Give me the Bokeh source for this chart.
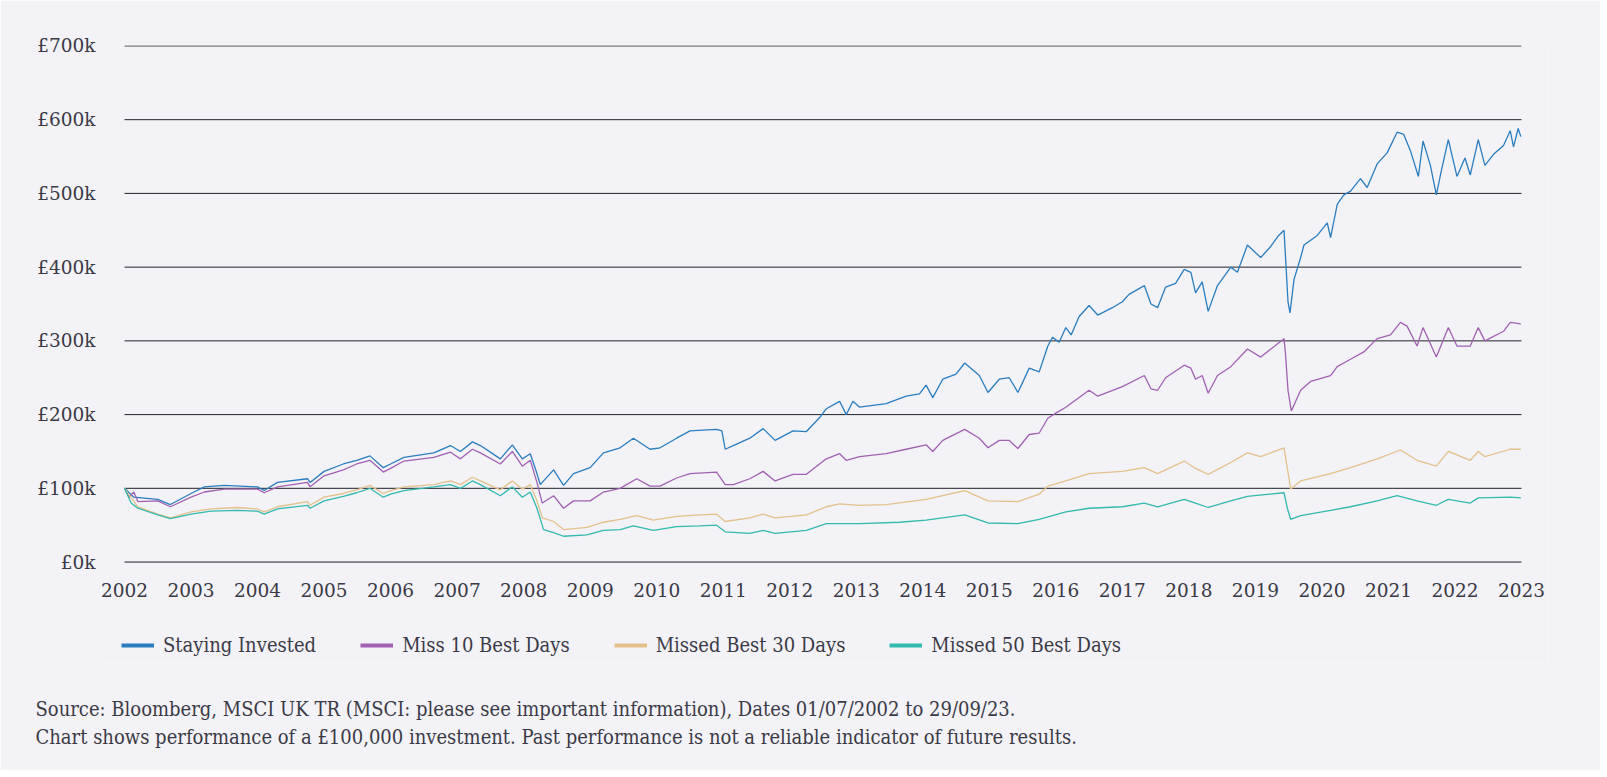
from bokeh.plotting import figure
from bokeh.models import Range1d, FixedTicker, Legend, LegendItem, Title
from bokeh.embed import file_html
from bokeh.resources import INLINE

# ---------------- data (values in £k) ----------------
si_year = [2002.0, 2002.14, 2002.5, 2002.69, 2003.0, 2003.2, 2003.5, 2004.0, 2004.1, 2004.3,
           2004.75, 2004.79, 2005.0, 2005.29, 2005.49, 2005.69, 2005.89, 2006.0, 2006.2, 2006.65,
           2006.9, 2007.05, 2007.23, 2007.35, 2007.65, 2007.83, 2007.98, 2008.1, 2008.2, 2008.25,
           2008.45, 2008.6, 2008.75, 2009.0, 2009.2, 2009.45, 2009.65, 2009.9, 2010.05, 2010.3,
           2010.5, 2010.9, 2010.98, 2011.03, 2011.15, 2011.4, 2011.6, 2011.78, 2012.05, 2012.25,
           2012.45, 2012.55, 2012.75, 2012.85, 2012.95, 2013.05, 2013.45, 2013.75, 2013.95, 2014.05,
           2014.15, 2014.3, 2014.5, 2014.63, 2014.85, 2014.98, 2015.15, 2015.3, 2015.43, 2015.6,
           2015.75, 2015.88, 2015.95, 2016.05, 2016.15, 2016.23, 2016.35, 2016.5, 2016.63, 2016.85,
           2017.0, 2017.1, 2017.33, 2017.43, 2017.53, 2017.65, 2017.8, 2017.93, 2018.03, 2018.1,
           2018.2, 2018.29, 2018.43, 2018.63, 2018.73, 2018.88, 2019.08, 2019.23, 2019.35, 2019.43,
           2019.45, 2019.49, 2019.52, 2019.58, 2019.68, 2019.73, 2019.93, 2020.08, 2020.13, 2020.23,
           2020.33, 2020.43, 2020.58, 2020.68, 2020.83, 2020.98, 2021.13, 2021.23, 2021.33, 2021.45,
           2021.52, 2021.63, 2021.72, 2021.8, 2021.9, 2022.03, 2022.15, 2022.23, 2022.35, 2022.45,
           2022.58, 2022.73, 2022.83, 2022.88, 2022.95, 2022.99]
si_value = [100, 88, 85, 78, 93, 102, 104, 102, 97, 108,
            113, 108, 123, 133, 138, 144, 128, 133, 142, 148,
            158, 150, 163, 158, 140, 159, 140, 147, 120, 105,
            125, 104, 120, 128, 148, 155, 168, 153, 155, 168,
            178, 180, 178, 153, 158, 168, 181, 165, 178, 177,
            196, 208, 218, 200, 218, 210, 215, 225, 228, 240,
            223, 248, 255, 270, 253, 230, 248, 250, 230, 263,
            258, 293, 305, 298, 318, 308, 333, 348, 335, 345,
            353, 363, 375, 350, 345, 373, 378, 397, 393, 365,
            380, 340, 375, 400, 393, 430, 413, 428, 443, 450,
            418, 353, 338, 383, 413, 430, 443, 460, 440, 485,
            498, 503, 520, 508, 540, 555, 583, 580, 558, 523,
            571, 538, 498, 533, 573, 523, 548, 525, 573, 538,
            553, 565, 585, 563, 588, 577]

m10_year = [2002.0, 2002.07, 2002.14, 2002.2, 2002.5, 2002.69, 2003.0, 2003.2, 2003.5, 2004.0,
            2004.1, 2004.3, 2004.75, 2004.79, 2005.0, 2005.29, 2005.49, 2005.69, 2005.89, 2006.0,
            2006.2, 2006.65, 2006.9, 2007.05, 2007.23, 2007.35, 2007.65, 2007.83, 2007.98, 2008.1,
            2008.2, 2008.28, 2008.45, 2008.6, 2008.75, 2009.0, 2009.2, 2009.45, 2009.7, 2009.9,
            2010.05, 2010.3, 2010.5, 2010.9, 2011.03, 2011.15, 2011.4, 2011.6, 2011.78, 2012.05,
            2012.25, 2012.55, 2012.75, 2012.85, 2013.05, 2013.45, 2013.75, 2014.05, 2014.15, 2014.3,
            2014.63, 2014.85, 2014.98, 2015.15, 2015.3, 2015.43, 2015.6, 2015.75, 2015.88, 2016.0,
            2016.15, 2016.5, 2016.63, 2017.0, 2017.33, 2017.43, 2017.53, 2017.65, 2017.93, 2018.03,
            2018.1, 2018.2, 2018.29, 2018.43, 2018.63, 2018.88, 2019.08, 2019.43, 2019.45, 2019.49,
            2019.54, 2019.68, 2019.83, 2020.13, 2020.23, 2020.43, 2020.63, 2020.83, 2021.03, 2021.18,
            2021.28, 2021.43, 2021.52, 2021.72, 2021.9, 2022.03, 2022.23, 2022.35, 2022.45, 2022.73,
            2022.83, 2022.99]
m10_value = [100, 88, 95, 82, 83, 75, 88, 95, 99, 99,
             94, 102, 108, 102, 117, 125, 133, 138, 122, 127,
             137, 142, 149, 140, 153, 148, 133, 150, 130, 138,
             108, 80, 90, 73, 83, 83, 95, 100, 113, 103,
             103, 114, 120, 122, 105, 105, 113, 123, 110, 119,
             119, 140, 147, 138, 143, 147, 153, 159, 150, 165,
             180, 168, 155, 165, 165, 154, 173, 175, 195, 202,
             210, 233, 225, 238, 253, 235, 233, 250, 267, 263,
             248, 253, 229, 253, 265, 289, 278, 303, 285, 233,
             205, 233, 245, 253, 265, 275, 285, 303, 308, 325,
             320, 293, 318, 278, 318, 293, 293, 318, 300, 313,
             325, 323]

m30_year = [2002.0, 2002.2, 2002.5, 2002.69, 2003.0, 2003.3, 2003.7, 2004.0, 2004.1, 2004.3,
            2004.75, 2004.79, 2005.0, 2005.29, 2005.49, 2005.69, 2005.89, 2006.0, 2006.2, 2006.65,
            2006.9, 2007.05, 2007.23, 2007.35, 2007.65, 2007.83, 2007.98, 2008.1, 2008.2, 2008.28,
            2008.45, 2008.6, 2008.95, 2009.2, 2009.45, 2009.7, 2009.95, 2010.3, 2010.65, 2010.9,
            2011.03, 2011.4, 2011.6, 2011.78, 2012.25, 2012.55, 2012.75, 2013.05, 2013.45, 2014.05,
            2014.3, 2014.63, 2014.98, 2015.43, 2015.75, 2015.88, 2016.15, 2016.5, 2017.0, 2017.33,
            2017.53, 2017.93, 2018.1, 2018.29, 2018.63, 2018.88, 2019.08, 2019.43, 2019.47, 2019.53,
            2019.68, 2020.13, 2020.43, 2020.83, 2021.18, 2021.43, 2021.72, 2021.9, 2022.23, 2022.35,
            2022.45, 2022.83, 2022.99]
m30_value = [100, 75, 65, 60, 68, 72, 74, 72, 68, 75,
             82, 77, 88, 93, 98, 104, 93, 97, 102, 105,
             110, 105, 115, 110, 98, 110, 99, 105, 83, 60,
             55, 44, 47, 54, 58, 63, 57, 62, 64, 65,
             55, 60, 65, 60, 64, 75, 79, 77, 78, 85,
             90, 97, 83, 82, 92, 103, 110, 120, 123, 128,
             120, 137, 127, 119, 135, 148, 143, 155, 133, 99,
             110, 120, 128, 140, 152, 138, 130, 150, 138, 150,
             143, 153, 153]

m50_year = [2002.0, 2002.1, 2002.2, 2002.5, 2002.69, 2003.0, 2003.3, 2003.7, 2004.0, 2004.1,
            2004.3, 2004.75, 2004.79, 2005.0, 2005.29, 2005.49, 2005.69, 2005.89, 2006.0, 2006.2,
            2006.65, 2006.9, 2007.05, 2007.23, 2007.35, 2007.65, 2007.83, 2007.98, 2008.1, 2008.2,
            2008.3, 2008.45, 2008.6, 2008.95, 2009.2, 2009.45, 2009.65, 2009.95, 2010.3, 2010.65,
            2010.9, 2011.03, 2011.4, 2011.6, 2011.78, 2012.25, 2012.55, 2013.05, 2013.65, 2014.05,
            2014.63, 2014.98, 2015.43, 2015.75, 2016.15, 2016.5, 2017.0, 2017.33, 2017.53, 2017.93,
            2018.1, 2018.29, 2018.63, 2018.88, 2019.43, 2019.48, 2019.53, 2019.68, 2020.13, 2020.43,
            2020.83, 2021.13, 2021.43, 2021.72, 2021.9, 2022.23, 2022.35, 2022.83, 2022.99]
m50_value = [100, 80, 73, 64, 59, 65, 69, 70, 69, 65,
             72, 77, 73, 83, 89, 94, 100, 88, 92, 97,
             102, 105, 100, 110, 105, 90, 102, 88, 95, 73,
             44, 40, 35, 37, 43, 44, 49, 43, 48, 49,
             50, 41, 39, 43, 39, 43, 52, 52, 54, 57,
             64, 53, 52, 58, 68, 73, 75, 80, 75, 85,
             80, 74, 83, 89, 94, 73, 58, 63, 70, 75,
             83, 90, 83, 77, 85, 80, 87, 88, 87]

series_names = ["Staying Invested", "Miss 10 Best Days", "Missed Best 30 Days", "Missed 50 Best Days"]
year_ticks = list(range(2002, 2024))
value_ticks = [0, 100, 200, 300, 400, 500, 600, 700]
value_labels = ["£0k", "£100k", "£200k", "£300k", "£400k", "£500k", "£600k", "£700k"]

source_lines = [
    "Source: Bloomberg, MSCI UK TR (MSCI: please see important information), Dates 01/07/2002 to 29/09/23.",
    "Chart shows performance of a £100,000 investment. Past performance is not a reliable indicator of future results.",
]

# ---------------- styling / layout ----------------
BG = "#f3f2f6"
COLORS = ["#2a7dbf", "#a260b3", "#e4c08a", "#33b9ad"]
TEXT = "#3a3a46"
GRID = "#22222a"
TICK_FONT = "DejaVu Serif"
BODY_FONT = "DejaVu Serif Condensed"
BODY_SIZE = "20px"

WIDTH, HEIGHT = 1600, 770
PLOT_L, PLOT_R = 124, 1521          # where 2002 and 2023 sit (px)
FRAME_L, FRAME_R = 101, 1548        # frame a little wider so end tick labels are not cut
TOP, GRID_BOTTOM, FRAME_BOTTOM = 45, 562, 662

x0, x1 = year_ticks[0], year_ticks[-1]
px_per_year = (PLOT_R - PLOT_L) / (x1 - x0)
x_lo = x0 - (PLOT_L - FRAME_L) / px_per_year
x_hi = x1 + (FRAME_R - PLOT_R) / px_per_year

y_hi = 700.6
per_px = (y_hi + 0.6) / (GRID_BOTTOM - TOP)
y_lo = y_hi - (FRAME_BOTTOM - TOP) * per_px   # frame extends below £0k to hold the legend

p = figure(width=WIDTH, height=HEIGHT, output_backend="svg", toolbar_location=None,
           x_range=Range1d(x_lo, x_hi), y_range=Range1d(y_lo, y_hi),
           min_border_left=FRAME_L, min_border_right=WIDTH - FRAME_R, min_border_top=TOP,
           min_border_bottom=HEIGHT - FRAME_BOTTOM,
           background_fill_color=BG, border_fill_color=BG)
p.outline_line_color = None
p.grid.visible = False

# horizontal gridlines spanning only the 2002-2023 extent
p.segment(x0=[x0] * len(value_ticks), y0=value_ticks, x1=[x1] * len(value_ticks), y1=value_ticks,
          line_color=GRID, line_width=1)

p.yaxis.ticker = FixedTicker(ticks=value_ticks)
p.yaxis.major_label_overrides = {t: l for t, l in zip(value_ticks, value_labels)}
p.xaxis.ticker = FixedTicker(ticks=year_ticks)
p.xaxis.major_label_overrides = {y: str(y) for y in year_ticks}
p.xaxis.fixed_location = 0
for ax in (p.xaxis[0], p.yaxis[0]):
    ax.axis_line_color = None
    ax.major_tick_line_color = None
    ax.minor_tick_line_color = None
    ax.major_label_text_font = TICK_FONT
    ax.major_label_text_font_size = "18.5px"
    ax.major_label_text_color = TEXT
p.yaxis.major_label_standoff = 0
p.xaxis.major_label_standoff = 15

data = [(si_year, si_value), (m10_year, m10_value), (m30_year, m30_value), (m50_year, m50_value)]
items = []
for (xs, ys), c, name in zip(data, COLORS, series_names):
    p.line(xs, ys, line_color=c, line_width=1.3)
    # legend swatch: a thick line renderer that draws nothing in the plot
    swatch = p.line(x=[float("nan")], y=[float("nan")], line_color=c, line_width=4)
    items.append(LegendItem(label=name, renderers=[swatch]))

legend = Legend(items=items, orientation="horizontal", location=(PLOT_L - FRAME_L - 3, 4),
                glyph_width=33, glyph_height=26, label_height=26, label_standoff=9, spacing=44,
                padding=0, margin=0, background_fill_alpha=0, border_line_color=None,
                label_text_font=BODY_FONT, label_text_font_size=BODY_SIZE,
                label_text_color=TEXT)
p.add_layout(legend)

# blank spacer between the legend area and the source notes
p.add_layout(Title(text=" ", standoff=5, text_font=BODY_FONT, text_font_size=BODY_SIZE,
                   text_font_style="normal", text_color=BG), "below")

for line in source_lines:
    p.add_layout(Title(text=line, align="left", offset=35 - FRAME_L, standoff=1.5,
                       text_font=BODY_FONT, text_font_size=BODY_SIZE, text_font_style="normal",
                       text_color=TEXT), "below")

open("out.html", "w").write(file_html(p, INLINE))
